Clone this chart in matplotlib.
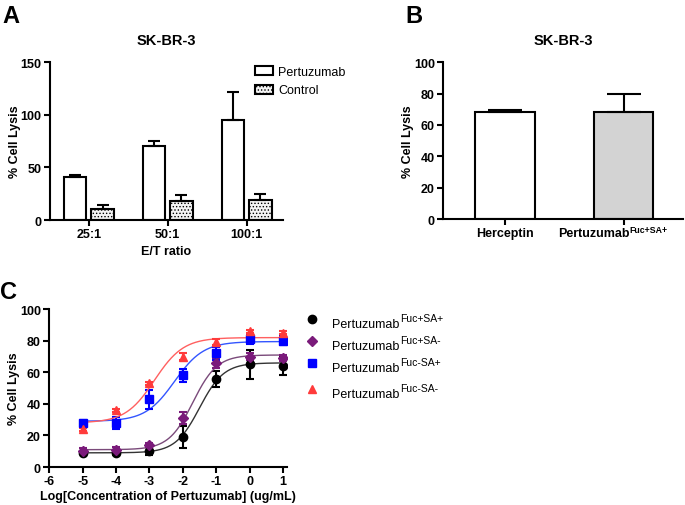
import numpy as np
import matplotlib
matplotlib.use("Agg")
import matplotlib.pyplot as plt
from matplotlib.lines import Line2D

plt.rcParams['font.family'] = ['Liberation Sans', 'DejaVu Sans']
plt.rcParams['hatch.linewidth'] = 0.6
plt.rcParams['axes.unicode_minus'] = False

# Panel A data
ratios = ['25:1', '50:1', '100:1']
pertuzumab_a = [41, 70, 95]
pertuzumab_a_err = [1.5, 5, 27]
control_a = [11, 18, 19]
control_a_err = [3, 6, 6]

# Panel B data
b_labels = ['Herceptin', 'Pertuzumab']
b_sup = ['', 'Fuc+SA+']
b_values = [68, 68.5]
b_err = [1.5, 11]

# Panel C data
log_conc = [-5, -4, -3, -2, -1, 0, 1]
c_sup = ['Fuc+SA+', 'Fuc+SA-', 'Fuc-SA+', 'Fuc-SA-']
fuc_sa_pp = [9, 9, 10, 19, 56, 65, 64]
fuc_sa_pp_err = [1, 1.5, 2.5, 7, 5, 9, 6]
fuc_sa_pm = [10, 11, 14, 31, 66, 70, 69]
fuc_sa_pm_err = [2, 1.5, 1.5, 4, 3, 2, 2]
fuc_sa_mp = [28, 28, 43, 58, 72, 81, 80]
fuc_sa_mp_err = [2, 4, 6, 4, 4, 3, 3]
fuc_sa_mm = [24, 36, 53, 70, 79, 86, 85]
fuc_sa_mm_err = [1, 1, 1, 2, 2, 1, 1]
# 4PL fit parameters (bottom, top, logEC50, hill)
fit_params = [(9, 66, -1.5, 1.2), (11, 71, -1.7, 1.2), (29, 79.5, -2.25, 1.0), (28, 82, -2.85, 1.0)]

colors = ['black', '#7a1a7a', '#0000ff', '#ff3b3b']
line_colors = ['#333333', '#7a4a7a', '#3355ff', '#ff6060']
markers = ['o', 'D', 's', '^']
msizes = [6, 5, 6, 6]

fig = plt.figure(figsize=(6.85, 5.06), dpi=100)


def style_axes(ax):
    ax.spines['top'].set_visible(False)
    ax.spines['right'].set_visible(False)
    for s in ['left', 'bottom']:
        ax.spines[s].set_linewidth(1.5)
    ax.tick_params(width=1.5, length=4, labelsize=9, pad=2)
    for lbl in ax.get_xticklabels() + ax.get_yticklabels():
        lbl.set_fontweight('bold')


# ---- A ----
axA = fig.add_axes([0.073, 0.563, 0.340, 0.312])
x = np.arange(len(ratios))
w = 0.285
axA.bar(x - 0.175, pertuzumab_a, w, yerr=[np.zeros(3), pertuzumab_a_err], color='white',
        edgecolor='black', linewidth=1.5, capsize=4.5, error_kw=dict(elinewidth=1.5, capthick=1.5),
        label='Pertuzumab')
axA.bar(x + 0.175, control_a, w, yerr=[np.zeros(3), control_a_err], color='#f4f4f4',
        edgecolor='black', linewidth=1.5, hatch='.....', capsize=4.5,
        error_kw=dict(elinewidth=1.5, capthick=1.5), label='Control')
axA.set_xlim(-0.49, 2.46)
axA.set_ylim(0, 150)
axA.set_yticks([0, 50, 100, 150])
axA.set_xticks(x)
axA.set_xticklabels(ratios)
axA.set_ylabel('% Cell Lysis', fontsize=9, fontweight='bold', labelpad=0)
axA.set_xlabel('E/T ratio', fontsize=9, fontweight='bold', labelpad=3)
axA.set_title('SK-BR-3', fontsize=10.5, fontweight='bold', pad=13)
style_axes(axA)
axA.legend(loc='upper left', bbox_to_anchor=(0.88, 0.975), frameon=False, fontsize=9,
           handlelength=1.45, handleheight=0.75, handletextpad=0.4, labelspacing=0.5,
           borderpad=0, borderaxespad=0)
fig.text(0.004, 0.955, 'A', fontsize=17, fontweight='bold')

# ---- B ----
axB = fig.add_axes([0.647, 0.565, 0.350, 0.310])
xb = np.arange(len(b_labels))
axB.bar(xb, b_values, 0.5, yerr=[np.zeros(2), b_err], color=['white', '#d3d3d3'],
        edgecolor='black', linewidth=1.5, capsize=12,
        error_kw=dict(elinewidth=1.5, capthick=1.5))
axB.set_xlim(-0.52, 1.5)
axB.set_ylim(0, 100)
axB.set_yticks([0, 20, 40, 60, 80, 100])
axB.set_xticks(xb)
axB.set_xticklabels([b_labels[0], ''])
axB.set_ylabel('% Cell Lysis', fontsize=9, fontweight='bold', labelpad=0)
axB.set_title('SK-BR-3', fontsize=10.5, fontweight='bold', pad=13)
style_axes(axB)
main_b = axB.annotate(b_labels[1], xy=(xb[1], 0), xycoords=('data', 'axes fraction'),
                      xytext=(4, -6), textcoords='offset points', ha='right', va='top',
                      fontsize=9, fontweight='bold')
axB.annotate(b_sup[1], xy=(1, 1), xycoords=main_b, xytext=(0.5, 2), textcoords='offset points',
             ha='left', va='top', fontsize=6.3, fontweight='bold')
fig.text(0.592, 0.955, 'B', fontsize=17, fontweight='bold')

# ---- C ----
axC = fig.add_axes([0.072, 0.075, 0.347, 0.312])
c_series = [fuc_sa_pp, fuc_sa_pm, fuc_sa_mp, fuc_sa_mm]
c_errs = [fuc_sa_pp_err, fuc_sa_pm_err, fuc_sa_mp_err, fuc_sa_mm_err]
xs = np.linspace(-5, 1, 200)
for vals, errs, (bot, top, ec, h), col, lcol, mk, ms in zip(
        c_series, c_errs, fit_params, colors, line_colors, markers, msizes):
    ys = bot + (top - bot) / (1 + 10 ** ((ec - xs) * h))
    axC.plot(xs, ys, color=lcol, linewidth=1)
    axC.errorbar(log_conc, vals, yerr=errs, fmt=mk, color=col, markersize=ms,
                 capsize=3, elinewidth=1.5, capthick=1.5)
axC.set_xlim(-6, 1.12)
axC.set_ylim(0, 100)
axC.set_xticks(range(-6, 2))
axC.set_yticks(range(0, 101, 20))
axC.set_ylabel('% Cell Lysis', fontsize=9, fontweight='bold', labelpad=0)
axC.set_xlabel('Log[Concentration of Pertuzumab] (ug/mL)', fontsize=9, fontweight='bold', labelpad=2)
style_axes(axC)

# legend for C drawn by hand (superscripts)
leg_y = [320, 342, 364, 390]
for yy, col, mk, ms, sup in zip(leg_y, colors, markers, msizes, c_sup):
    fy = 1 - yy / 506
    fig.add_artist(Line2D([312 / 685], [fy], marker=mk, color=col, markersize=ms, linestyle='none'))
    main = fig.text(332 / 685, fy - 5 / 506, 'Pertuzumab', fontsize=9, va='center', ha='left')
    axC.annotate(sup, xy=(1, 0.5), xycoords=main, xytext=(0.5, 4), textcoords='offset points',
                 ha='left', va='center', fontsize=7.5, annotation_clip=False)
fig.text(0.0, 0.41, 'C', fontsize=17, fontweight='bold')

fig.savefig('out.png', dpi=100)
